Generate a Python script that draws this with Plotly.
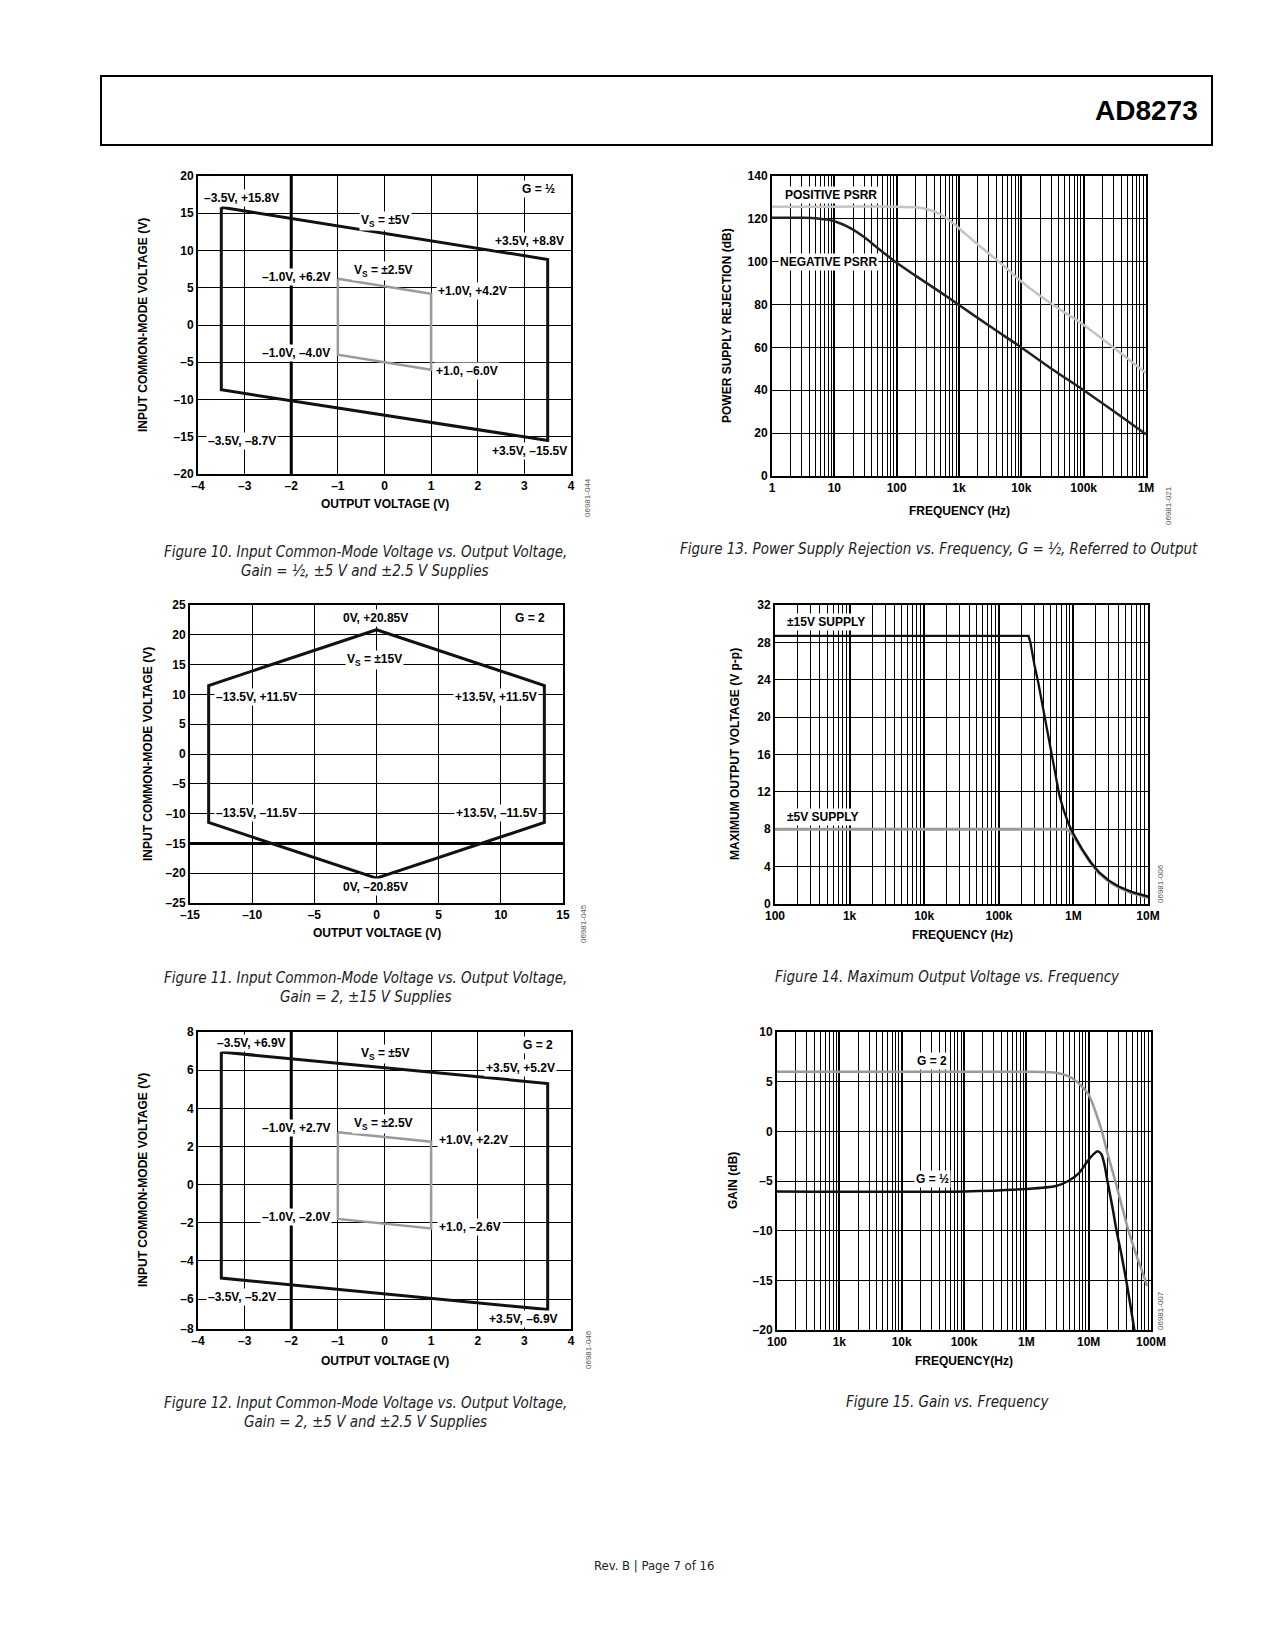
import plotly.graph_objects as go

W, H = 1275, 1650

# ---------------- DATA ----------------
f10_x_5v = [-3.5, 3.5, 3.5, -3.5, -3.5]
f10_y_5v = [15.8, 8.8, -15.5, -8.7, 15.8]
f10_x_25v = [-1.0, 1.0, 1.0, -1.0, -1.0]
f10_y_25v = [6.2, 4.2, -6.0, -4.0, 6.2]
f10_xticks = [-4, -3, -2, -1, 0, 1, 2, 3, 4]
f10_xtext = ["–4", "–3", "–2", "–1", "0", "1", "2", "3", "4"]
f10_yticks = [-20, -15, -10, -5, 0, 5, 10, 15, 20]
f10_ytext = ["–20", "–15", "–10", "–5", "0", "5", "10", "15", "20"]

f11_x = [0, 13.5, 13.5, 0, -13.5, -13.5, 0]
f11_y = [20.85, 11.5, -11.5, -20.85, -11.5, 11.5, 20.85]
f11_xticks = [-15, -10, -5, 0, 5, 10, 15]
f11_xtext = ["–15", "–10", "–5", "0", "5", "10", "15"]
f11_yticks = [-25, -20, -15, -10, -5, 0, 5, 10, 15, 20, 25]
f11_ytext = ["–25", "–20", "–15", "–10", "–5", "0", "5", "10", "15", "20", "25"]

f12_x_5v = [-3.5, 3.5, 3.5, -3.5, -3.5]
f12_y_5v = [6.95, 5.3, -6.55, -4.9, 6.95]
f12_x_25v = [-1.0, 1.0, 1.0, -1.0, -1.0]
f12_y_25v = [2.75, 2.25, -2.3, -1.8, 2.75]
f12_xticks = [-4, -3, -2, -1, 0, 1, 2, 3, 4]
f12_xtext = ["–4", "–3", "–2", "–1", "0", "1", "2", "3", "4"]
f12_yticks = [-7.57, -6, -4, -2, 0, 2, 4, 6, 8]
f12_ytext = ["–8", "–6", "–4", "–2", "0", "2", "4", "6", "8"]

f13_f_pos = [1, 10, 100, 200, 300, 500, 700, 1000, 2000, 5000, 10000, 30000, 100000, 300000, 1000000]
f13_pos = [125.7, 125.7, 125.7, 125.4, 124.6, 122.2, 119.3, 115.6, 108.0, 98.6, 90.8, 80.5, 70.5, 60.0, 48.0]
f13_f_neg = [1, 3, 5, 10, 20, 30, 50, 100, 200, 500, 1000, 3000, 10000, 30000, 100000, 300000, 1000000]
f13_neg = [120.5, 120.5, 120.3, 118.9, 115.0, 111.5, 106.3, 99.5, 93.5, 85.8, 79.8, 70.2, 60.0, 50.2, 40.0, 30.3, 19.5]
f13_xticks = [1, 10, 100, 1000, 10000, 100000, 1000000]
f13_xtext = ["1", "10", "100", "1k", "10k", "100k", "1M"]
f13_yticks = [0, 20, 40, 60, 80, 100, 120, 140]
f13_ytext = ["0", "20", "40", "60", "80", "100", "120", "140"]

f14_f15 = [100, 10000, 200000, 250000, 265000, 280000, 300000, 340000, 400000, 480000, 560000, 650000,
           750000, 870000, 1000000, 1300000, 1700000, 2200000, 3000000, 4000000, 6000000, 10000000]
f14_v15 = [28.7, 28.7, 28.7, 28.7, 28.0, 26.8, 25.6, 23.6, 20.6, 17.0, 14.0, 11.6,
           9.9, 8.5, 7.5, 5.9, 4.5, 3.4, 2.5, 1.9, 1.3, 0.8]
f14_f5 = [100, 10000, 800000, 900000, 1000000, 1300000, 1700000, 2200000, 3000000, 4000000, 6000000, 10000000]
f14_v5 = [8.0, 8.0, 8.0, 7.8, 7.3, 5.8, 4.4, 3.3, 2.4, 1.8, 1.2, 0.7]
f14_xticks = [100, 1000, 10000, 100000, 1000000, 10000000]
f14_xtext = ["100", "1k", "10k", "100k", "1M", "10M"]
f14_yticks = [0, 4, 8, 12, 16, 20, 24, 28, 32]
f14_ytext = ["0", "4", "8", "12", "16", "20", "24", "28", "32"]

f15_f_g2 = [100, 1e6, 3e6, 4.5e6, 6.5e6, 1e7, 1.3e7, 1.63e7, 2.0e7, 2.67e7, 3.4e7, 4.36e7, 6.0e7, 8.1e7, 8.6e7]
f15_g2 = [6.0, 6.0, 5.9, 5.6, 5.0, 3.7, 1.9, 0.0, -2.2, -5.0, -7.5, -10.0, -12.7, -15.0, -15.6]
f15_f_gh = [100, 1e5, 1e6, 3e6, 4.7e6, 7e6, 9.6e6, 1.2e7, 1.39e7, 1.6e7, 1.8e7, 2.0e7, 2.4e7, 2.8e7, 3.4e7, 4.0e7, 4.7e7, 5.4e7, 5.8e7]
f15_gh = [-6.05, -6.05, -5.8, -5.5, -5.0, -4.2, -3.0, -2.3, -2.0, -2.3, -3.4, -5.0, -7.6, -10.0, -12.6, -15.0, -17.6, -20.0, -21.5]
f15_xticks = [100, 1000, 10000, 100000, 1000000, 10000000, 100000000]
f15_xtext = ["100", "1k", "10k", "100k", "1M", "10M", "100M"]
f15_yticks = [-20, -15, -10, -5, 0, 5, 10]
f15_ytext = ["–20", "–15", "–10", "–5", "0", "5", "10"]

# ---------------- HELPERS ----------------
def px(x):
    return x / W

def py(y):
    return 1 - y / H

FONT = "Liberation Sans, Arial, Helvetica, sans-serif"
NARROW = "Liberation Sans Narrow, DejaVu Sans Condensed, Arial Narrow, sans-serif"
BLACK = "#111111"
GRAY = "#9a9a9a"
LGRAY = "#c4c4c4"

fig = go.Figure()

def minor_vals(lo_exp, hi_exp):
    vals = []
    for k in range(lo_exp, hi_exp):
        for d in range(2, 10):
            vals.append(d * 10 ** k)
    return vals

def bold(lst):
    return ["<b>%s</b>" % t for t in lst]

def axis_common(domain, rng, tickvals, ticktext, log=False, minor=None):
    a = dict(
        domain=domain, range=rng, tickmode="array", tickvals=tickvals, ticktext=bold(ticktext),
        showline=True, linecolor="black", linewidth=2, mirror=True,
        showgrid=True, gridcolor="black", gridwidth=1, zeroline=False,
        ticks="", tickfont=dict(family=FONT, size=12, color="black"),
        fixedrange=True, automargin=False,
    )
    if log:
        a["type"] = "log"
        a["gridwidth"] = 2
        a["minor"] = dict(tickmode="array", tickvals=minor, showgrid=True,
                          gridcolor="black", gridwidth=1, ticks="")
    return a

panels = [
    ((198, 571), (176, 474)),
    ((772, 1146), (176, 476)),
    ((190, 563), (605, 903)),
    ((775, 1148), (605, 904)),
    ((198, 571), (1032, 1329)),
    ((777, 1151), (1032, 1330)),
]

def dom(p):
    (x0, x1), (y0, y1) = p
    return [px(x0), px(x1)], [py(y1), py(y0)]

layout_axes = {}
specs = [
    (f10_xticks, f10_xtext, [-4, 4], False, f10_yticks, f10_ytext, [-20, 20], None),
    (f13_xticks, f13_xtext, [0, 6], True, f13_yticks, f13_ytext, [0, 140], minor_vals(0, 6)),
    (f11_xticks, f11_xtext, [-15, 15], False, f11_yticks, f11_ytext, [-25, 25], None),
    (f14_xticks, f14_xtext, [2, 7], True, f14_yticks, f14_ytext, [0, 32], minor_vals(2, 7)),
    (f12_xticks, f12_xtext, [-4, 4], False, f12_yticks, f12_ytext, [-7.57, 8], None),
    (f15_xticks, f15_xtext, [2, 8], True, f15_yticks, f15_ytext, [-20, 10], minor_vals(2, 8)),
]
for i, (p, s) in enumerate(zip(panels, specs)):
    n = "" if i == 0 else str(i + 1)
    xd, yd = dom(p)
    xt, xtt, xr, lg, yt, ytt, yr, mv = s
    xa = axis_common(xd, xr, xt, xtt, log=lg, minor=mv)
    xa["anchor"] = "y" + n
    ya = axis_common(yd, yr, yt, ytt)
    ya["anchor"] = "x" + n
    layout_axes["xaxis" + n] = xa
    layout_axes["yaxis" + n] = ya

def line(x, y, color, width, ax, shape="linear", smoothing=1.0):
    n = "" if ax == 1 else str(ax)
    fig.add_trace(go.Scatter(x=x, y=y, mode="lines", xaxis="x" + n, yaxis="y" + n,
                             line=dict(color=color, width=width, shape=shape, smoothing=smoothing),
                             hoverinfo="skip", showlegend=False))

line(f10_x_5v, f10_y_5v, BLACK, 3, 1)
line(f10_x_25v, f10_y_25v, GRAY, 2.5, 1)
line(f13_f_pos, f13_pos, LGRAY, 2.5, 2, "spline", 0.8)
line(f13_f_neg, f13_neg, "#222222", 2.5, 2, "spline", 0.8)
line(f11_x, f11_y, BLACK, 3, 3)
line(f14_f5, f14_v5, GRAY, 3, 4)
line(f14_f15, f14_v15, BLACK, 2.3, 4)
line(f12_x_5v, f12_y_5v, BLACK, 3, 5)
line(f12_x_25v, f12_y_25v, GRAY, 2.5, 5)
line(f15_f_g2, f15_g2, GRAY, 2.5, 6, "spline", 0.7)
line(f15_f_gh, f15_gh, BLACK, 2.5, 6, "spline", 0.7)

annotations = []

def ann(text, x, y, size=12, bg="white", xanchor="center", angle=0, color="black",
        family=FONT, weight="bold", style="normal"):
    annotations.append(dict(
        text=text, x=px(x), y=py(y), xref="paper", yref="paper", showarrow=False,
        xanchor=xanchor, yanchor="middle", textangle=angle,
        font=dict(family=family, size=size, color=color, weight=weight, style=style),
        bgcolor=bg, borderpad=1,
    ))

ann("–3.5V, +15.8V", 242, 198)
ann("G = ½", 538, 189)
ann("V<sub>S</sub> = ±5V", 385, 221)
ann("+3.5V, +8.8V", 529, 241)
ann("–1.0V, +6.2V", 296, 277)
ann("V<sub>S</sub> = ±2.5V", 384, 271)
ann("+1.0V, +4.2V", 472, 291)
ann("–1.0V, –4.0V", 296, 353)
ann("+1.0, –6.0V", 467, 371)
ann("–3.5V, –8.7V", 242, 441)
ann("+3.5V, –15.5V", 529, 451)

ann("0V, +20.85V", 375, 618)
ann("G = 2", 530, 618)
ann("V<sub>S</sub> = ±15V", 374, 660)
ann("–13.5V, +11.5V", 256, 697)
ann("+13.5V, +11.5V", 496, 697)
ann("–13.5V, –11.5V", 256, 813)
ann("+13.5V, –11.5V", 496, 813)
ann("0V, –20.85V", 375, 887)

ann("–3.5V, +6.9V", 252, 1043)
ann("G = 2", 538, 1045)
ann("V<sub>S</sub> = ±5V", 385, 1054)
ann("+3.5V, +5.2V", 520, 1068)
ann("–1.0V, +2.7V", 296, 1128)
ann("V<sub>S</sub> = ±2.5V", 384, 1124)
ann("+1.0V, +2.2V", 473, 1140)
ann("–1.0V, –2.0V", 296, 1217)
ann("+1.0, –2.6V", 470, 1227)
ann("–3.5V, –5.2V", 242, 1297)
ann("+3.5V, –6.9V", 523, 1319)

ann("POSITIVE PSRR", 831, 195)
ann("NEGATIVE PSRR", 828, 262)
ann("±15V SUPPLY", 826, 622)
ann("±5V SUPPLY", 823, 817)
ann("G = 2", 932, 1061)
ann("G = ½", 932, 1179)

ann("OUTPUT VOLTAGE (V)", 385, 504, size=12, bg=None)
ann("INPUT COMMON-MODE VOLTAGE (V)", 143, 325, size=12, bg=None, angle=-90)
ann("FREQUENCY (Hz)", 959, 511, size=12, bg=None)
ann("POWER SUPPLY REJECTION (dB)", 727, 326, size=12, bg=None, angle=-90)
ann("OUTPUT VOLTAGE (V)", 377, 933, size=12, bg=None)
ann("INPUT COMMON-MODE VOLTAGE (V)", 148, 754, size=12, bg=None, angle=-90)
ann("FREQUENCY (Hz)", 962, 935, size=12, bg=None)
ann("MAXIMUM OUTPUT VOLTAGE (V p-p)", 735, 754, size=12, bg=None, angle=-90)
ann("OUTPUT VOLTAGE (V)", 385, 1361, size=12, bg=None)
ann("INPUT COMMON-MODE VOLTAGE (V)", 143, 1180, size=12, bg=None, angle=-90)
ann("FREQUENCY(Hz)", 964, 1361, size=12, bg=None)
ann("GAIN (dB)", 733, 1181, size=12, bg=None, angle=-90)

for code, x, y in [("06981-044", 588, 498), ("06981-021", 1169, 506), ("06981-045", 583, 924),
                   ("06981-006", 1160, 884), ("06981-046", 588, 1350), ("06981-007", 1160, 1311)]:
    ann(code, x, y, size=8, bg=None, angle=-90, color="#555555", weight="normal")

cap = dict(size=15, bg=None, family=NARROW, weight="normal", style="italic", color="#222222")
ann("Figure 10. Input Common-Mode Voltage vs. Output Voltage,", 365, 552, **cap)
ann("Gain = ½, ±5 V and ±2.5 V Supplies", 365, 571, **cap)
ann("Figure 13. Power Supply Rejection vs. Frequency, G = ½, Referred to Output", 939, 549, **cap)
ann("Figure 11. Input Common-Mode Voltage vs. Output Voltage,", 365, 978, **cap)
ann("Gain = 2, ±15 V Supplies", 365, 997, **cap)
ann("Figure 14. Maximum Output Voltage vs. Frequency", 947, 977, **cap)
ann("Figure 12. Input Common-Mode Voltage vs. Output Voltage,", 365, 1403, **cap)
ann("Gain = 2, ±5 V and ±2.5 V Supplies", 365, 1422, **cap)
ann("Figure 15. Gain vs. Frequency", 947, 1402, **cap)

ann("AD8273", 1200, 111, size=28, bg=None, xanchor="right", family=FONT)
ann("Rev. B | Page 7 of 16", 654, 1565, size=13, bg=None, family=NARROW, weight="normal", color="#222222")

shapes = [
    dict(type="rect", xref="paper", yref="paper", x0=px(101), x1=px(1212), y0=py(145), y1=py(76),
         line=dict(color="black", width=2)),
    dict(type="line", xref="x", yref="y domain", x0=-2, x1=-2, y0=0, y1=1, line=dict(color="black", width=3), layer="below"),
    dict(type="line", xref="x5", yref="y5 domain", x0=-2, x1=-2, y0=0, y1=1, line=dict(color="black", width=3), layer="below"),
    dict(type="line", xref="x3 domain", yref="y3", x0=0, x1=1, y0=-15, y1=-15, line=dict(color="black", width=3), layer="below"),
]

fig.update_layout(
    width=W, height=H, margin=dict(l=0, r=0, t=0, b=0, pad=0, autoexpand=False),
    paper_bgcolor="white", plot_bgcolor="white", showlegend=False,
    annotations=annotations, shapes=shapes, **layout_axes,
)

fig.write_html("out.html", config={"displayModeBar": False},
               post_script="document.body.style.margin='0';document.body.style.overflow='hidden';")
